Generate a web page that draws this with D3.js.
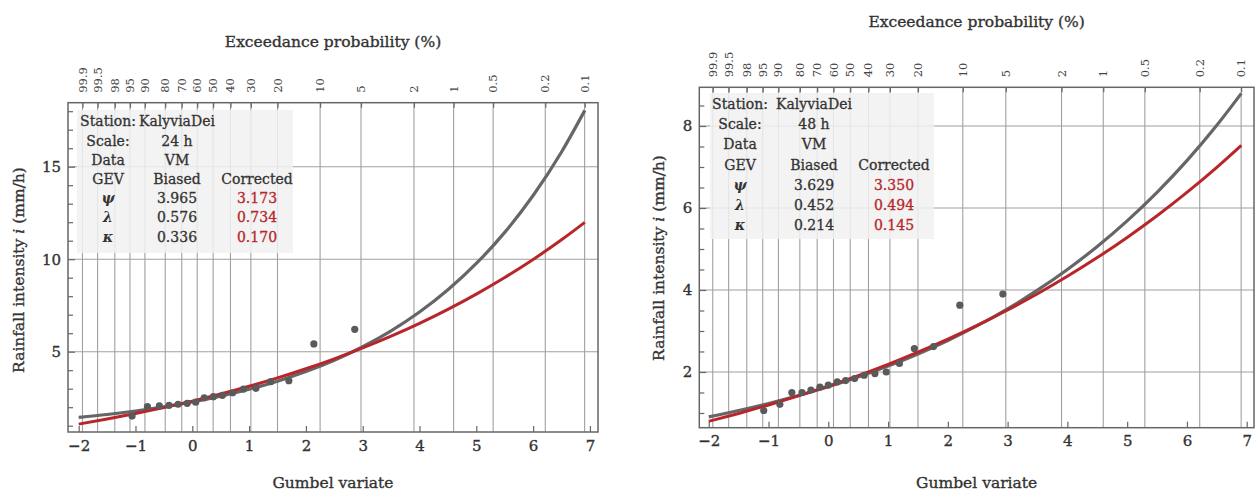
<!DOCTYPE html>
<html><head><meta charset="utf-8">
<script src="https://cdn.jsdelivr.net/npm/d3@7"></script>
<style>
body{margin:0;background:#fff;}
svg{display:block;font-family:"DejaVu Serif",serif;}
text.heavy{stroke:#333;stroke-width:0.35px;}
</style>
</head><body>
<svg id="c" width="1256" height="491"></svg>
<script>
// ---------- data ----------
const gumbelTicks = [-2,-1,0,1,2,3,4,5,6,7];
const exceedanceLabels = ["99.9","99.5","98","95","90","80","70","60","50","40","30","20","10","5","2","1","0.5","0.2","0.1"];
const exceedanceGumbel = [-1.933,-1.667,-1.364,-1.097,-0.834,-0.476,-0.186,0.087,0.367,0.672,1.031,1.500,2.250,2.970,3.902,4.600,5.296,6.214,6.907];

const curveGumbel  = [-2,-1.5,-1,-0.5,0,0.5,1,1.5,2,2.5,3,3.5,4,4.5,5,5.5,6,6.5,6.91];
const biased24     = [1.445,1.605,1.795,2.019,2.284,2.597,2.968,3.407,3.926,4.540,5.267,6.126,7.143,8.345,9.768,11.450,13.441,15.795,18.044];
const corrected24  = [1.085,1.357,1.654,1.977,2.329,2.712,3.129,3.583,4.077,4.616,5.201,5.839,6.534,7.290,8.113,9.009,9.985,11.047,11.988];
const biased48     = [0.905,1.060,1.233,1.426,1.640,1.879,2.144,2.440,2.769,3.135,3.542,3.995,4.500,5.061,5.686,6.381,7.155,8.017,8.795];
const corrected48  = [0.797,0.989,1.195,1.417,1.655,1.911,2.187,2.483,2.801,3.143,3.512,3.907,4.333,4.790,5.282,5.811,6.380,6.991,7.527];

const obs24Gumbel = [-1.06,-0.79,-0.58,-0.41,-0.25,-0.09,0.06,0.21,0.37,0.53,0.71,0.90,1.12,1.38,1.70,2.14,2.86];
const obs24Values = [1.52,2.03,2.07,2.10,2.16,2.21,2.27,2.51,2.57,2.64,2.78,2.98,3.02,3.38,3.43,5.42,6.21];
const obs48Gumbel = [-1.08,-0.81,-0.61,-0.44,-0.29,-0.14,0.00,0.15,0.29,0.44,0.60,0.78,0.97,1.19,1.44,1.76,2.20,2.92];
const obs48Values = [1.06,1.21,1.50,1.50,1.56,1.63,1.68,1.76,1.79,1.84,1.92,1.96,2.00,2.21,2.57,2.62,3.63,3.90];

const yMajor24 = [5,10,15];
const yMinor24 = [1,2,3,4,6,7,8,9,11,12,13,14,16,17,18];
const yMajor48 = [2,4,6,8];
const yMinor48 = [1,1.5,2.5,3,3.5,4.5,5,5.5,6.5,7,7.5,8.5];

const table24 = [["Station:","KalyviaDei",""],["Scale:","24 h",""],["Data","VM",""],["GEV","Biased","Corrected"],["ψ","3.965","3.173"],["λ","0.576","0.734"],["κ","0.336","0.170"]];
const table48 = [["Station:","KalyviaDei",""],["Scale:","48 h",""],["Data","VM",""],["GEV","Biased","Corrected"],["ψ","3.629","3.350"],["λ","0.452","0.494"],["κ","0.214","0.145"]];

const xTitle = "Gumbel variate";
const topTitle = "Exceedance probability (%)";

// ---------- drawing ----------
const svg = d3.select("#c");
const TXT = "#333";
const GRID = "#a0a0a0";
const RED = "#b8262b";
const GRAY = "#666";

function drawPanel(cfg){
  const g = svg.append("g");
  const x = d3.scaleLinear().domain(cfg.xDomain).range([cfg.left, cfg.right]);
  const y = d3.scaleLinear().domain(cfg.yDomain).range([cfg.bottom, cfg.top]);

  // grid
  g.append("g").selectAll("line").data(exceedanceGumbel).join("line")
    .attr("x1",d=>x(d)).attr("x2",d=>x(d)).attr("y1",cfg.top).attr("y2",cfg.bottom)
    .attr("stroke",GRID).attr("stroke-width",1.1);
  g.append("g").selectAll("line").data(cfg.yMajor).join("line")
    .attr("x1",cfg.left).attr("x2",cfg.right).attr("y1",d=>y(d)).attr("y2",d=>y(d))
    .attr("stroke",GRID).attr("stroke-width",1.1);

  // table background
  g.append("rect").attr("x",cfg.tbl.x).attr("y",cfg.tbl.y).attr("width",cfg.tbl.w).attr("height",cfg.tbl.h)
    .attr("fill","#f1f1f1").attr("fill-opacity",0.85);

  // curves
  const line = d3.line().x(d=>x(d[0])).y(d=>y(d[1])).curve(d3.curveMonotoneX);
  g.append("path").datum(curveGumbel.map((v,i)=>[v,cfg.biased[i]])).attr("d",line)
    .attr("fill","none").attr("stroke",GRAY).attr("stroke-width",3.2);
  g.append("path").datum(curveGumbel.map((v,i)=>[v,cfg.corrected[i]])).attr("d",line)
    .attr("fill","none").attr("stroke",RED).attr("stroke-width",3);

  // observations
  g.append("g").selectAll("circle").data(cfg.obsG.map((v,i)=>[v,cfg.obsV[i]])).join("circle")
    .attr("cx",d=>x(d[0])).attr("cy",d=>y(d[1])).attr("r",3.6).attr("fill","#5a5a5a");

  // axes
  const bottom = g.append("g").attr("transform",`translate(0,${cfg.bottom})`)
    .call(d3.axisBottom(x).tickValues(gumbelTicks).tickSize(-6).tickPadding(8).tickFormat(d3.format("d")));
  const left = g.append("g").attr("transform",`translate(${cfg.left},0)`)
    .call(d3.axisLeft(y).tickValues(cfg.yMajor).tickSize(-7).tickPadding(7).tickFormat(d3.format("d")));
  const leftMinor = g.append("g").attr("transform",`translate(${cfg.left},0)`)
    .call(d3.axisLeft(y).tickValues(cfg.yMinor).tickSize(-5).tickFormat(""));
  const top = g.append("g").attr("transform",`translate(0,${cfg.top})`)
    .call(d3.axisTop(x).tickValues(exceedanceGumbel).tickSize(-5).tickFormat(""));
  [bottom,left,leftMinor,top].forEach(a=>{
    a.select(".domain").remove();
    a.selectAll("line").attr("stroke","#666").attr("stroke-width",1.2);
    a.selectAll("text").attr("fill",TXT).attr("font-family","DejaVu Serif").attr("font-size",15).attr("class","heavy");
  });

  // top labels
  g.append("g").selectAll("text").data(exceedanceGumbel).join("text")
    .attr("transform",d=>`translate(${x(d)},${cfg.top-10}) rotate(-90)`)
    .attr("dy","0.35em").attr("text-anchor","start")
    .attr("fill","#444").attr("font-size",11.5)
    .text((d,i)=>exceedanceLabels[i]);

  // frame
  g.append("rect").attr("x",cfg.left).attr("y",cfg.top).attr("width",cfg.right-cfg.left).attr("height",cfg.bottom-cfg.top)
    .attr("fill","none").attr("stroke","#666").attr("stroke-width",1.5);

  // titles
  g.append("text").attr("class","heavy").attr("x",(cfg.left+cfg.right)/2).attr("y",cfg.xTitleY).attr("text-anchor","middle")
    .attr("fill",TXT).attr("font-size",15.5).text(xTitle);
  g.append("text").attr("class","heavy").attr("x",(cfg.left+cfg.right)/2).attr("y",cfg.topTitleY).attr("text-anchor","middle")
    .attr("fill",TXT).attr("font-size",15.5).text(topTitle);
  const yt = g.append("text").attr("class","heavy").attr("transform",`translate(${cfg.yTitleX},${cfg.yTitleY}) rotate(-90)`)
    .attr("text-anchor","middle").attr("fill",TXT).attr("font-size",15.5);
  yt.append("tspan").text("Rainfall intensity ");
  yt.append("tspan").attr("font-style","italic").text("i");
  yt.append("tspan").text(" (mm/h)");

  // table text
  const tg = g.append("g").attr("font-size",14);
  cfg.table.forEach((row,ri)=>{
    row.forEach((cell,ci)=>{
      if(!cell) return;
      const red = (ci===2 && ri>=4);
      const t = tg.append("text").attr("x",cfg.tblCols[ci]).attr("y",cfg.tblRow0 + ri*cfg.tblRowH)
        .attr("dy","0.35em").attr("text-anchor","middle").attr("fill", red?RED:TXT)
        .attr("stroke", red?RED:TXT).attr("stroke-width",0.3).text(cell);
      if(ci===0 && ri>=4) t.attr("font-style","italic").attr("font-weight","bold").attr("stroke-width",0);
    });
  });
}

drawPanel({
  left:68, right:598, top:102.7, bottom:432,
  xDomain:[-2.188,7.142], yDomain:[0.659,18.459],
  yMajor:yMajor24, yMinor:yMinor24,
  biased:biased24, corrected:corrected24, obsG:obs24Gumbel, obsV:obs24Values,
  tbl:{x:77,y:110,w:216,h:143}, tblCols:[108,177,257], tblRow0:121.5, tblRowH:19.2, table:table24,
  xTitleY:488, topTitleY:47, yTitleX:24, yTitleY:270
});
drawPanel({
  left:699.3, right:1254, top:87.3, bottom:427.7,
  xDomain:[-2.158,7.122], yDomain:[0.641,8.944],
  yMajor:yMajor48, yMinor:yMinor48,
  biased:biased48, corrected:corrected48, obsG:obs48Gumbel, obsV:obs48Values,
  tbl:{x:710,y:93,w:224,h:146}, tblCols:[740,814,894], tblRow0:104, tblRowH:20.2, table:table48,
  xTitleY:488, topTitleY:27, yTitleX:664, yTitleY:258
});
</script>
</body></html>
